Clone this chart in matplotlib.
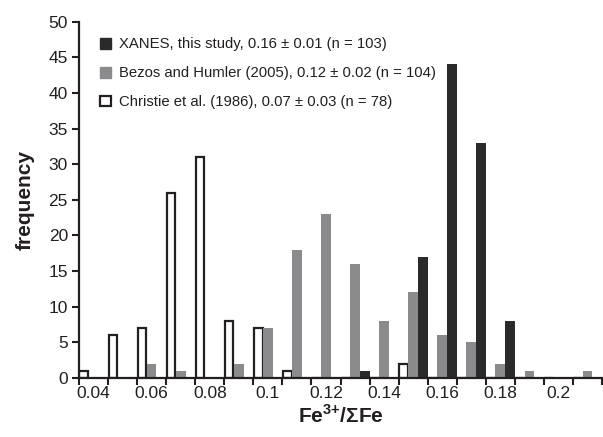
import numpy as np
import matplotlib
matplotlib.use('Agg')
import matplotlib.pyplot as plt
from matplotlib.patches import Patch

plt.rcParams['font.family'] = ['Liberation Sans', 'DejaVu Sans']
plt.rcParams['mathtext.fontset'] = 'custom'
plt.rcParams['mathtext.rm'] = 'Liberation Sans'
plt.rcParams['mathtext.bf'] = 'Liberation Sans:bold'

# bins of Fe3+/SumFe, 0.04 ... 0.21
bins = [0.04, 0.05, 0.06, 0.07, 0.08, 0.09, 0.10, 0.11, 0.12,
        0.13, 0.14, 0.15, 0.16, 0.17, 0.18, 0.19, 0.20, 0.21]
christie = [1, 6, 7, 26, 31, 8, 7, 1, 0, 0, 0, 2, 0, 0, 0, 0, 0, 0]
bezos = [0, 0, 2, 1, 0, 2, 7, 18, 23, 16, 8, 12, 6, 5, 2, 1, 0, 1]
xanes = [0, 0, 0, 0, 0, 0, 0, 0, 0, 1, 0, 17, 44, 33, 8, 0, 0, 0]
tick_labels = ['0.04', '0.06', '0.08', '0.1', '0.12', '0.14', '0.16', '0.18', '0.2']

lbl_xanes = 'XANES, this study, 0.16 \u00b1 0.01 (n = 103)'
lbl_bezos = 'Bezos and Humler (2005), 0.12 \u00b1 0.02 (n = 104)'
lbl_christie = 'Christie et al. (1986), 0.07 \u00b1 0.03 (n = 78)'

dark = '#2b2a2b'
grey = '#8b8b8e'
ink = '#231f20'

fig = plt.figure(figsize=(6.03, 4.37), dpi=100)
ax = fig.add_axes([79/603, (437-378)/437, 523/603, (378-21.7)/437])

x = np.arange(len(bins))
w = 1/3
ax.bar(x + w/2, christie, width=w*0.9, color='white', edgecolor=ink, linewidth=1.6, zorder=2)
ax.bar(x + 1.5*w, bezos, width=w, color=grey, zorder=2)
ax.bar(x + 2.5*w, xanes, width=w, color=dark, zorder=3)

ax.set_xlim(0, len(bins))
ax.set_ylim(0, 50)
ax.set_yticks(np.arange(0, 51, 5))
ax.set_xticks(np.arange(0, len(bins) + 1))
ax.set_xticklabels([])
ax.set_xticks(x[::2] + 0.5, minor=True)
ax.set_xticklabels(tick_labels, minor=True)
ax.tick_params(axis='x', which='major', direction='out', length=5, width=1.5, color=ink)
ax.tick_params(axis='x', which='minor', length=0, pad=6, labelsize=12.5, labelcolor=ink)
ax.tick_params(axis='y', direction='out', length=5, width=1.5, color=ink, labelsize=12.5, labelcolor=ink, pad=3)

for s in ['top', 'right']:
    ax.spines[s].set_visible(False)
for s in ['left', 'bottom']:
    ax.spines[s].set_linewidth(1.6)
    ax.spines[s].set_color(ink)
    ax.spines[s].set_zorder(4)

ax.set_ylabel('frequency', fontsize=15, fontweight='bold', color=ink, labelpad=10)
ax.set_xlabel(r'Fe$^{\mathbf{3{+}}}$/ΣFe', fontsize=15,
              fontweight='bold', color=ink, labelpad=2)

handles = [Patch(facecolor=dark, edgecolor=dark),
           Patch(facecolor=grey, edgecolor=grey),
           Patch(facecolor='white', edgecolor=ink, linewidth=1.6)]
leg = ax.legend(handles, [lbl_xanes, lbl_bezos, lbl_christie], loc='upper left',
                bbox_to_anchor=(0.02, 0.985), frameon=False, fontsize=10.7,
                handlelength=0.75, handleheight=0.75, handletextpad=0.55,
                labelspacing=1.0, borderaxespad=0.3)
for t in leg.get_texts():
    t.set_color(ink)

fig.savefig('out.png', dpi=100)
